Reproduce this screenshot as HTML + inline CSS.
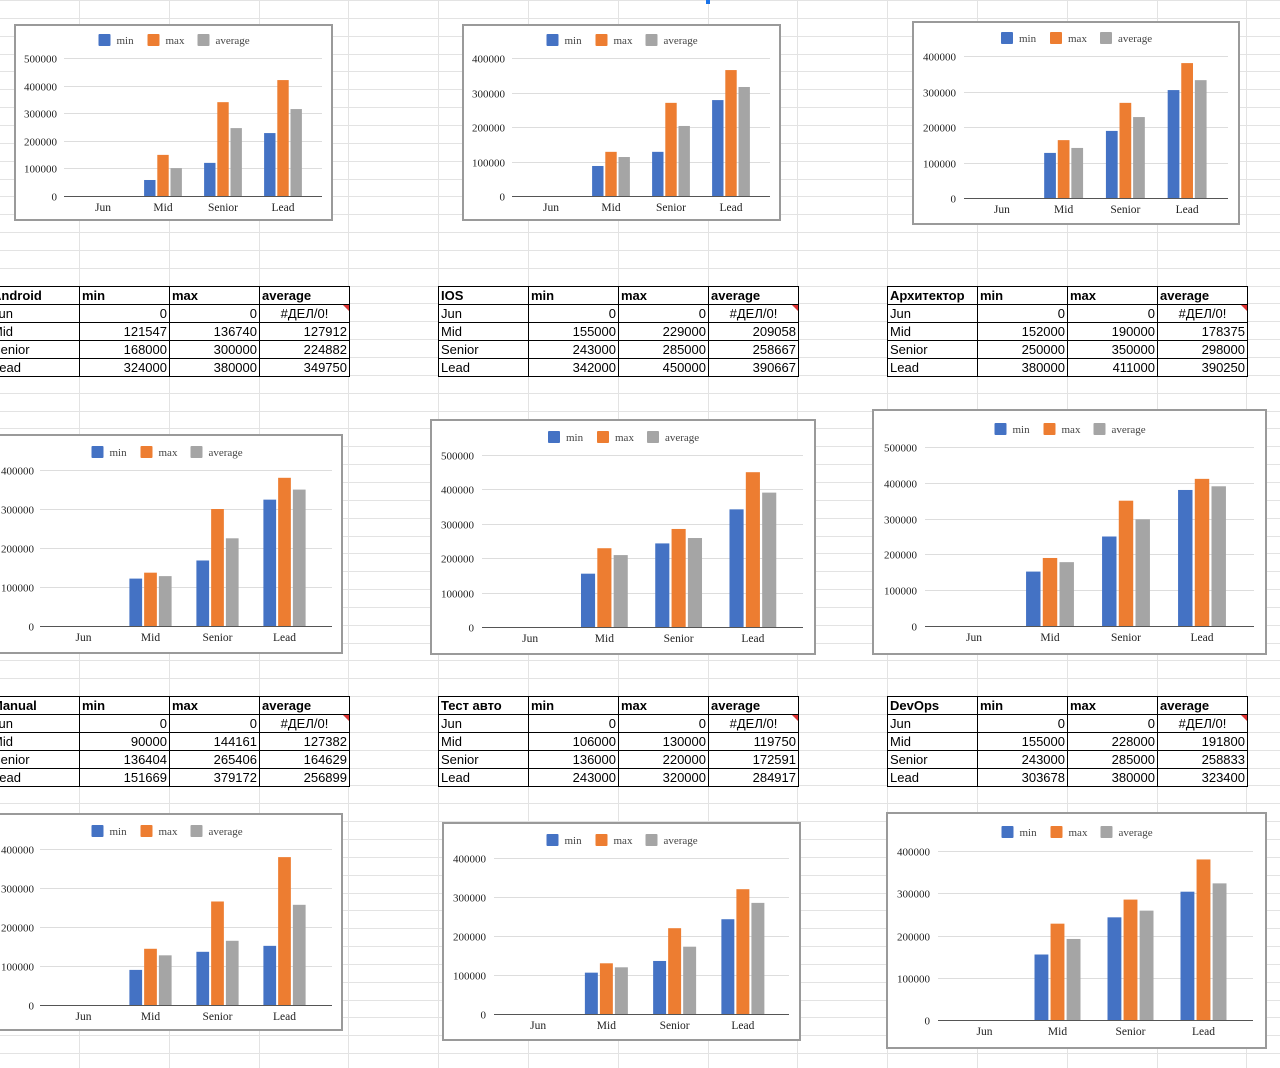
<!DOCTYPE html>
<html><head><meta charset="utf-8">
<style>
html,body{margin:0;padding:0;width:1280px;height:1068px;overflow:hidden;background:#fff;}
#bg{position:absolute;left:0;top:0;}
.tbl{position:absolute;border-collapse:collapse;font-family:"Liberation Sans","Noto Sans CJK SC",sans-serif;font-size:13px;background:#fff;table-layout:fixed;}
.tbl td{border:1px solid #000;height:17px;padding:0 2px;width:85px;white-space:nowrap;overflow:hidden;line-height:17px;}
.tbl tr:first-child td{font-weight:bold;}
.tbl td.n{text-align:right;}
.tbl td.e{text-align:center;position:relative;}
.tbl td.e::after{content:"";position:absolute;right:0;top:0;border-top:6px solid #d33;border-left:6px solid transparent;}
</style></head><body>
<svg id="bg" width="1280" height="1068"></svg>

<table class="tbl" style="left:-11px;top:286px">
<tr><td>Android</td><td>min</td><td>max</td><td>average</td></tr>
<tr><td>Jun</td><td class="n">0</td><td class="n">0</td><td class="e">#ДЕЛ/0!</td></tr>
<tr><td>Mid</td><td class="n">121547</td><td class="n">136740</td><td class="n">127912</td></tr>
<tr><td>Senior</td><td class="n">168000</td><td class="n">300000</td><td class="n">224882</td></tr>
<tr><td>Lead</td><td class="n">324000</td><td class="n">380000</td><td class="n">349750</td></tr>
</table>
<table class="tbl" style="left:438px;top:286px">
<tr><td>IOS</td><td>min</td><td>max</td><td>average</td></tr>
<tr><td>Jun</td><td class="n">0</td><td class="n">0</td><td class="e">#ДЕЛ/0!</td></tr>
<tr><td>Mid</td><td class="n">155000</td><td class="n">229000</td><td class="n">209058</td></tr>
<tr><td>Senior</td><td class="n">243000</td><td class="n">285000</td><td class="n">258667</td></tr>
<tr><td>Lead</td><td class="n">342000</td><td class="n">450000</td><td class="n">390667</td></tr>
</table>
<table class="tbl" style="left:887px;top:286px">
<tr><td>Архитектор</td><td>min</td><td>max</td><td>average</td></tr>
<tr><td>Jun</td><td class="n">0</td><td class="n">0</td><td class="e">#ДЕЛ/0!</td></tr>
<tr><td>Mid</td><td class="n">152000</td><td class="n">190000</td><td class="n">178375</td></tr>
<tr><td>Senior</td><td class="n">250000</td><td class="n">350000</td><td class="n">298000</td></tr>
<tr><td>Lead</td><td class="n">380000</td><td class="n">411000</td><td class="n">390250</td></tr>
</table>
<table class="tbl" style="left:-11px;top:696px">
<tr><td>Manual</td><td>min</td><td>max</td><td>average</td></tr>
<tr><td>Jun</td><td class="n">0</td><td class="n">0</td><td class="e">#ДЕЛ/0!</td></tr>
<tr><td>Mid</td><td class="n">90000</td><td class="n">144161</td><td class="n">127382</td></tr>
<tr><td>Senior</td><td class="n">136404</td><td class="n">265406</td><td class="n">164629</td></tr>
<tr><td>Lead</td><td class="n">151669</td><td class="n">379172</td><td class="n">256899</td></tr>
</table>
<table class="tbl" style="left:438px;top:696px">
<tr><td>Тест авто</td><td>min</td><td>max</td><td>average</td></tr>
<tr><td>Jun</td><td class="n">0</td><td class="n">0</td><td class="e">#ДЕЛ/0!</td></tr>
<tr><td>Mid</td><td class="n">106000</td><td class="n">130000</td><td class="n">119750</td></tr>
<tr><td>Senior</td><td class="n">136000</td><td class="n">220000</td><td class="n">172591</td></tr>
<tr><td>Lead</td><td class="n">243000</td><td class="n">320000</td><td class="n">284917</td></tr>
</table>
<table class="tbl" style="left:887px;top:696px">
<tr><td>DevOps</td><td>min</td><td>max</td><td>average</td></tr>
<tr><td>Jun</td><td class="n">0</td><td class="n">0</td><td class="e">#ДЕЛ/0!</td></tr>
<tr><td>Mid</td><td class="n">155000</td><td class="n">228000</td><td class="n">191800</td></tr>
<tr><td>Senior</td><td class="n">243000</td><td class="n">285000</td><td class="n">258833</td></tr>
<tr><td>Lead</td><td class="n">303678</td><td class="n">380000</td><td class="n">323400</td></tr>
</table>

<svg id="charts" width="1280" height="1068" style="position:absolute;left:0;top:0"></svg>

<script>
const categories = ["Jun","Mid","Senior","Lead"];
const seriesNames = ["min","max","average"];
const c1Min=[0,58000,120000,228000], c1Max=[0,149000,340000,420000], c1Avg=[0,101000,246000,315000];
const c2Min=[0,87000,128000,278000], c2Max=[0,128000,270000,365000], c2Avg=[0,113000,203000,316000];
const c3Min=[0,127000,189000,304000], c3Max=[0,163000,268000,380000], c3Avg=[0,141000,228000,332000];
const c4Min=[0,121547,168000,324000], c4Max=[0,136740,300000,380000], c4Avg=[0,127912,224882,349750];
const c5Min=[0,155000,243000,342000], c5Max=[0,229000,285000,450000], c5Avg=[0,209058,258667,390667];
const c6Min=[0,152000,250000,380000], c6Max=[0,190000,350000,411000], c6Avg=[0,178375,298000,390250];
const c7Min=[0,90000,136404,151669], c7Max=[0,144161,265406,379172], c7Avg=[0,127382,164629,256899];
const c8Min=[0,106000,136000,243000], c8Max=[0,130000,220000,320000], c8Avg=[0,119750,172591,284917];
const c9Min=[0,155000,243000,303678], c9Max=[0,228000,285000,380000], c9Avg=[0,191800,258833,323400];
const ticks4=[0,100000,200000,300000,400000];
const ticks5=[0,100000,200000,300000,400000,500000];

const NS="http://www.w3.org/2000/svg";
const colors=["#4472c4","#ed7d31","#a5a5a5"];
function mk(parent,tag,attrs,text){const e=document.createElementNS(NS,tag);for(const k in attrs)e.setAttribute(k,attrs[k]);if(text!==undefined)e.textContent=text;parent.appendChild(e);return e;}

const bg=document.getElementById('bg');
for(let k=0;k<60;k++){const y=Math.round(k*17.85)+0.5;const l=mk(bg,'line',{x1:0,x2:1280,y1:y,y2:y,stroke:'#e3e3e3'});

}
for(let k=-1;k<14;k++){const x=Math.round(79+k*89.8)+0.5;const l=mk(bg,'line',{x1:x,x2:x,y1:0,y2:1068,stroke:'#e3e3e3'});

}
const sel=mk(bg,'rect',{x:706,y:0,width:4,height:4,fill:'#1a73e8'});



const root=document.getElementById('charts');
function drawChart(name,sp,mins,maxs,avgs,ticks){
  const g=mk(root,'g',{});
  
  
  const box=mk(g,'rect',{x:sp.box[0]+1,y:sp.box[1]+1,width:sp.box[2]-2,height:sp.box[3]-2,fill:'#fff',stroke:'#9a9a9a','stroke-width':2});
  
  
  const top=ticks[ticks.length-1];
  const yS=v=>sp.y0-(v/top)*(sp.y0-sp.yt);
  ticks.forEach(t=>{
    const y=Math.round(yS(t))+0.5;
    const gl=mk(g,'line',{x1:sp.gl,x2:sp.gr,y1:y,y2:y,stroke:t===0?'#555':'#ddd','stroke-width':1});
    
    
    const tl=mk(g,'text',{x:sp.lx,y:y+4,'text-anchor':'end','font-family':'Liberation Serif, serif','font-size':11,fill:'#222'},String(t));
    
    
  });
  const band=(sp.br-sp.bl)/categories.length;
  const bw=band*0.19, gap=band*0.03;
  const xS=i=>sp.bl+band*(i+0.5);
  const series=[mins,maxs,avgs];
  categories.forEach((c,i)=>{
    const cx=xS(i);
    series.forEach((arr,s)=>{
      const v=arr[i]; if(v<=0) return;
      const x=cx-(1.5*bw+gap)+s*(bw+gap);
      const r=mk(g,'rect',{x:x,y:yS(v),width:bw,height:sp.y0-yS(v),fill:colors[s]});
      
      
    });
    const cl=mk(g,'text',{x:cx,y:sp.y0+15,'text-anchor':'middle','font-family':'Liberation Serif, serif','font-size':11.5,fill:'#222'},c);
    
    
  });
  const widths=[49,50,0];
  let lx=sp.box[0]+sp.box[2]/2-75;
  seriesNames.forEach((n,s)=>{
    const sw=mk(g,'rect',{x:lx,y:sp.ly-6,width:12,height:12,fill:colors[s],rx:1});
    
    
    const t=mk(g,'text',{x:lx+18,y:sp.ly+4,'font-family':'Liberation Serif, serif','font-size':11,fill:'#444'},n);
    
    
    lx+=widths[s];
  });
}

drawChart('android-chart-top',{box:[14,24,319,197],y0:196,yt:58,gl:64,gr:322,lx:57,bl:73,br:313,ly:40},c1Min,c1Max,c1Avg,ticks5);
drawChart('ios-chart-top',{box:[462,24,319,197],y0:196,yt:58,gl:512,gr:770,lx:505,bl:521,br:761,ly:40},c2Min,c2Max,c2Avg,ticks4);
drawChart('architect-chart-top',{box:[912,21,328,204],y0:198,yt:56,gl:964,gr:1228,lx:956,bl:971,br:1218,ly:38},c3Min,c3Max,c3Avg,ticks4);
drawChart('android-chart',{box:[-10,434,353,220],y0:626,yt:470,gl:40,gr:332,lx:34,bl:50,br:318,ly:452},c4Min,c4Max,c4Avg,ticks4);
drawChart('ios-chart',{box:[430,419,386,236],y0:627,yt:455,gl:482,gr:803,lx:474,bl:493,br:790,ly:437},c5Min,c5Max,c5Avg,ticks5);
drawChart('architect-chart',{box:[872,409,395,246],y0:626,yt:447,gl:925,gr:1254,lx:917,bl:936,br:1240,ly:429},c6Min,c6Max,c6Avg,ticks5);
drawChart('manual-chart',{box:[-10,813,353,218],y0:1005,yt:849,gl:40,gr:332,lx:34,bl:50,br:318,ly:831},c7Min,c7Max,c7Avg,ticks4);
drawChart('test-auto-chart',{box:[442,822,359,219],y0:1014,yt:858,gl:494,gr:789,lx:486,bl:504,br:777,ly:840},c8Min,c8Max,c8Avg,ticks4);
drawChart('devops-chart',{box:[886,812,381,237],y0:1020,yt:851,gl:938,gr:1253,lx:930,bl:948,br:1240,ly:832},c9Min,c9Max,c9Avg,ticks4);
</script>
</body></html>
